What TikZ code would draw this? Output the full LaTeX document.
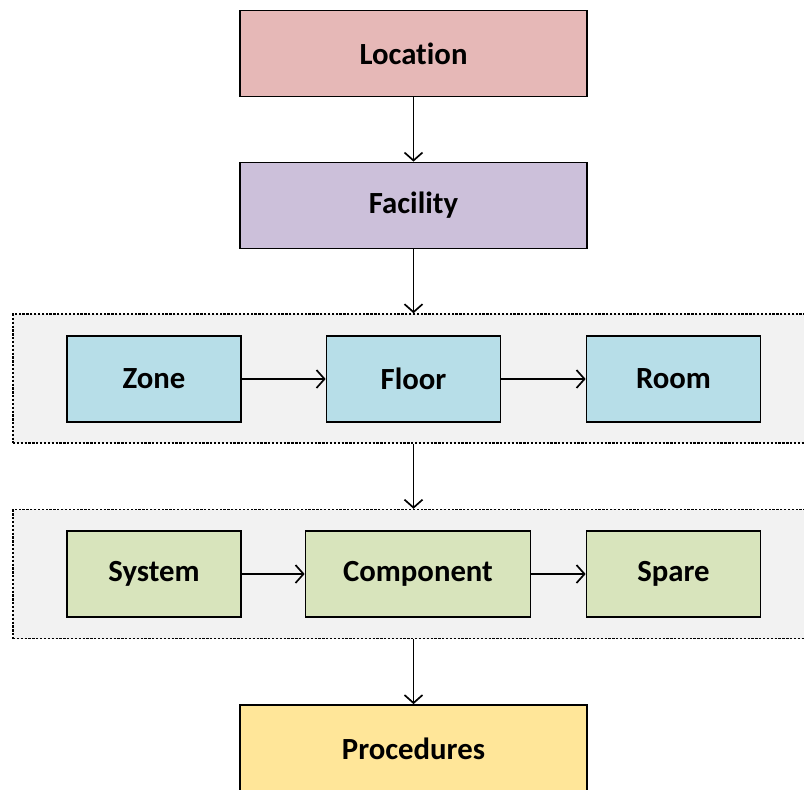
\documentclass[tikz,border=0pt]{standalone}
\usepackage{fontspec}
\setmainfont{Carlito}[Ligatures=NoCommon]
\usepackage{tikz}
\usetikzlibrary{positioning,arrows.meta}
\definecolor{locred}{HTML}{E6B8B7}
\definecolor{facpurple}{HTML}{CCC0DA}
\definecolor{spaceblue}{HTML}{B7DEE8}
\definecolor{assetgreen}{HTML}{D8E4BC}
\definecolor{procyellow}{HTML}{FFE699}
\definecolor{groupgray}{HTML}{F2F2F2}

\begin{document}
\begin{tikzpicture}[
    wide/.style={rectangle, draw=black, line width=1pt, minimum width=6.94cm,
                 minimum height=1.72cm, text centered,
                 font=\fontsize{17.5}{20}\selectfont\bfseries},
    item/.style={rectangle, draw=black, line width=1pt, minimum width=3.48cm,
                 minimum height=1.72cm, text centered,
                 font=\fontsize{17.5}{20}\selectfont\bfseries},
    group/.style={rectangle, draw=black, fill=groupgray, line width=0.85pt,
                  dash pattern=on 1.3pt off 0.9pt, minimum width=16.34cm,
                  minimum height=2.58cm},
    link/.style={line width=0.95pt, -{Straight Barb[length=1.6mm, width=3.6mm]}}
]
\useasboundingbox (0,0) rectangle (16.08,-15.78);

% Top
\node[wide, fill=locred] (loc) at (8.27, -1.07) {Location};
\node[wide, fill=facpurple] (fac) at (8.27, -4.11) {Facility};

% Groups
\node[group] (spacegrp) at (8.43, -7.57) {};
\node[group] (assetgrp) at (8.43, -11.48) {};

% Spaces
\node[item, fill=spaceblue] (zone) at (3.08, -7.58) {Zone};
\node[item, fill=spaceblue] (floor) at (8.27, -7.58) {Floor};
\node[item, fill=spaceblue] (room) at (13.47, -7.58) {Room};

% Assets
\node[item, fill=assetgreen] (sys) at (3.08, -11.48) {System};
\node[item, fill=assetgreen, minimum width=4.5cm] (comp) at (8.36, -11.48) {Component};
\node[item, fill=assetgreen] (spare) at (13.47, -11.48) {Spare};

% Bottom
\node[wide, fill=procyellow, minimum height=1.74cm] (proc) at (8.27, -14.97) {Procedures};

% Connections
\draw[link] (loc) -- (fac);
\draw[link] (fac.south) -- (fac.south |- spacegrp.north);
\draw[link] (zone) -- (floor);
\draw[link] (floor) -- (room);
\draw[link] (floor.south |- spacegrp.south) -- (floor.south |- assetgrp.north);
\draw[link] (sys) -- (comp);
\draw[link] (comp) -- (spare);
\draw[link] (proc.north |- assetgrp.south) -- (proc.north);

\end{tikzpicture}
\end{document}
